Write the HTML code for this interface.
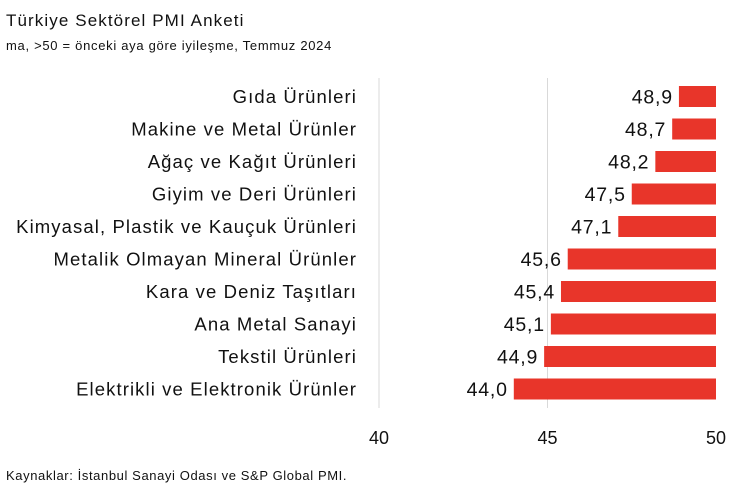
<!DOCTYPE html>
<html><head><meta charset="utf-8"><style>
body{margin:0;background:#fff;font-family:"Liberation Sans",sans-serif;}
svg text{font-family:"Liberation Sans",sans-serif;fill:#111;}
</style></head><body>
<svg id="c" width="730" height="492">
<text x="6" y="26" font-size="17" letter-spacing="1.1">Türkiye Sektörel PMI Anketi</text>
<text x="6" y="50" font-size="13" letter-spacing="0.7">ma, &gt;50 = önceki aya göre iyileşme, Temmuz 2024</text>
<text x="6" y="480" font-size="13" letter-spacing="0.6">Kaynaklar: İstanbul Sanayi Odası ve S&amp;P Global PMI.</text>
<g id="g"></g>
</svg>
<script>
const categories=["Gıda Ürünleri","Makine ve Metal Ürünler","Ağaç ve Kağıt Ürünleri","Giyim ve Deri Ürünleri","Kimyasal, Plastik ve Kauçuk Ürünleri","Metalik Olmayan Mineral Ürünler","Kara ve Deniz Taşıtları","Ana Metal Sanayi","Tekstil Ürünleri","Elektrikli ve Elektronik Ürünler"];
const values=[48.9,48.7,48.2,47.5,47.1,45.6,45.4,45.1,44.9,44.0];
const ticks=[40,45,50];
const NS="http://www.w3.org/2000/svg";
const g=document.getElementById('g');
const x=v=>379+(v-40)*(716-379)/10;
const y=i=>86+i*32.5;
const bh=21;
function el(t,a){const e=document.createElementNS(NS,t);for(const k in a)e.setAttribute(k,a[k]);g.appendChild(e);return e;}
ticks.forEach(t=>{
  if(t<50){const l=el('line',{x1:x(t),x2:x(t),y1:78,y2:408,stroke:'#d9d9d9','stroke-width':1});
  
  }
  const tx=el('text',{x:x(t),y:444,'font-size':18,'text-anchor':'middle'});
  tx.textContent=t;
  
  
});
values.forEach((v,i)=>{
  const r=el('rect',{x:x(v),y:y(i),width:x(50)-x(v),height:bh,fill:'#e8352a'});
  
  
  const vt=el('text',{x:x(v)-6,y:y(i)+bh/2+7,'font-size':19.5,'letter-spacing':0.8,'text-anchor':'end'});
  vt.textContent=v.toFixed(1).replace('.',',');
  
  
  const ct=el('text',{x:357,y:y(i)+bh/2+6.5,'font-size':18.5,'letter-spacing':1.1,'text-anchor':'end'});
  ct.textContent=categories[i];
  
  
});
</script>
</body></html>
